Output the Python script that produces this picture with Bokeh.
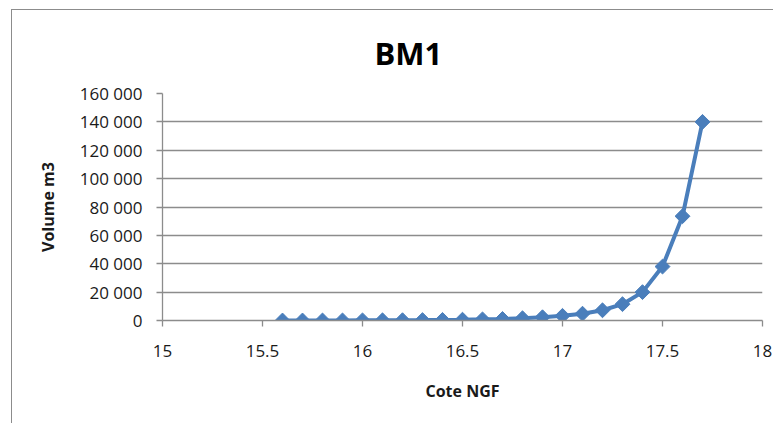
import math
from bokeh.plotting import figure
from bokeh.models import Range1d, FixedTicker
from bokeh.embed import file_html
from bokeh.resources import INLINE

# Data
cote = [15.6, 15.7, 15.8, 15.9, 16.0, 16.1, 16.2, 16.3, 16.4, 16.5, 16.6,
        16.7, 16.8, 16.9, 17.0, 17.1, 17.2, 17.3, 17.4, 17.5, 17.6, 17.7]
volume = [0, 10, 30, 60, 100, 150, 220, 300, 420, 580, 800,
          1100, 1600, 2300, 3300, 4800, 7200, 11500, 20000, 38000, 73500, 140000]

x_ticks = [15, 15.5, 16, 16.5, 17, 17.5, 18]
x_labels = ["15", "15.5", "16", "16.5", "17", "17.5", "18"]
y_ticks = [0, 20000, 40000, 60000, 80000, 100000, 120000, 140000, 160000]
y_labels = ["0", "20 000", "40 000", "60 000", "80 000", "100 000", "120 000", "140 000", "160 000"]

title_text = "BM1"
x_title = "Cote NGF"
y_title = "Volume m3"

FONT = "Open Sans"
BLUE = "#4A7EBB"
GRAY = "#8C8C8C"

p = figure(width=762, height=414, output_backend="svg", toolbar_location=None,
           x_range=Range1d(15, 18), y_range=Range1d(0, 160000),
           min_border_left=150, min_border_right=12,
           min_border_top=83, min_border_bottom=104)
p.styles = {"margin-left": "11px", "margin-top": "9px",
            "border-left": "1px solid #8c8c8c", "border-top": "1px solid #8c8c8c"}
p.outline_line_color = None
p.background_fill_color = "white"
p.border_fill_color = "white"

p.title.text = title_text
p.title.align = "left"
p.title.offset = 212
p.title.standoff = 39
p.title.text_font = FONT
p.title.text_font_size = "31px"
p.title.text_font_style = "bold"
p.title.text_color = "#000000"

p.line(cote, volume, line_color=BLUE, line_width=4)
p.scatter(cote, volume, marker="square", size=10.5, angle=math.pi / 4,
          fill_color=BLUE, line_color=BLUE)

p.xgrid.visible = False
p.ygrid.grid_line_color = GRAY
p.ygrid.grid_line_width = 1.3
p.ygrid.ticker = FixedTicker(ticks=y_ticks)

p.xaxis.ticker = FixedTicker(ticks=x_ticks)
p.yaxis.ticker = FixedTicker(ticks=y_ticks)
p.xaxis.major_label_overrides = dict(zip(x_ticks, x_labels))
p.yaxis.major_label_overrides = dict(zip(y_ticks, y_labels))

for ax in (p.xaxis, p.yaxis):
    ax.axis_line_color = GRAY
    ax.axis_line_width = 1.3
    ax.major_tick_line_color = GRAY
    ax.major_tick_line_width = 1.3
    ax.major_tick_in = 0
    ax.major_tick_out = 6
    ax.minor_tick_line_color = None
    ax.major_label_text_font = FONT
    ax.major_label_text_font_size = "17px"
    ax.major_label_text_color = "#1a1a1a"
    ax.axis_label_text_font = FONT
    ax.axis_label_text_font_size = "16px"
    ax.axis_label_text_font_style = "bold"
    ax.axis_label_text_color = "#1a1a1a"

p.xaxis.axis_label = x_title
p.yaxis.axis_label = y_title
p.xaxis.major_label_standoff = 18
p.xaxis.axis_label_standoff = 20
p.yaxis.major_label_standoff = 14
p.yaxis.axis_label_standoff = 18

open("out.html", "w").write(file_html(p, INLINE))
